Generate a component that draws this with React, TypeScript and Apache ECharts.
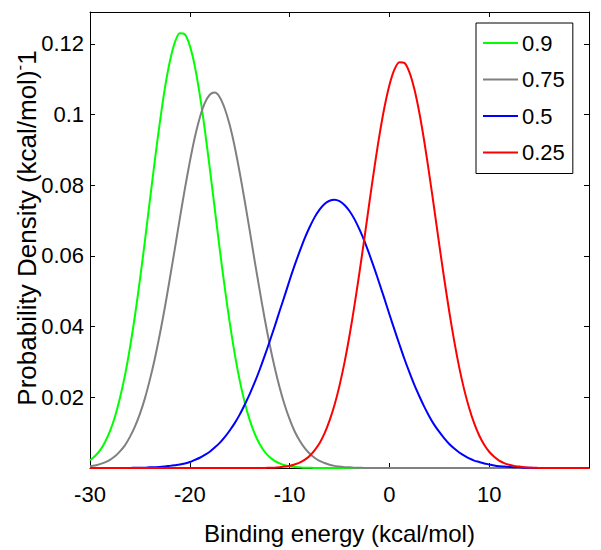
import React, { useEffect, useRef } from "react";
import * as echarts from "echarts";

const xValues = [
  -30, -29.5, -29, -28.5, -28, -27.5, -27, -26.5, -26, -25.5,
  -25, -24.5, -24, -23.5, -23, -22.5, -22, -21.5, -21, -20.5,
  -20, -19.5, -19, -18.5, -18, -17.5, -17, -16.5, -16, -15.5,
  -15, -14.5, -14, -13.5, -13, -12.5, -12, -11.5, -11, -10.5,
  -10, -9.5, -9, -8.5, -8, -7.5, -7, -6.5, -6, -5.5,
  -5, -4.5, -4, -3.5, -3, -2.5, -2, -1.5, -1, -0.5,
  0, 0.5, 1, 1.5, 2, 2.5, 3, 3.5, 4, 4.5,
  5, 5.5, 6, 6.5, 7, 7.5, 8, 8.5, 9, 9.5,
  10, 10.5, 11, 11.5, 12, 12.5, 13, 13.5, 14, 14.5,
  15, 15.5, 16, 16.5, 17, 17.5, 18, 18.5, 19, 19.5,
  20,
];

const seriesNames = ["0.9", "0.75", "0.5", "0.25"];
const seriesColors = ["#00ff00", "#808080", "#0000ff", "#ff0000"];

const density09 = [
  0.0022, 0.0034, 0.005, 0.0073, 0.0104, 0.0145, 0.0198, 0.0262, 0.034, 0.043,
  0.0532, 0.0642, 0.0757, 0.0871, 0.0978, 0.1074, 0.115, 0.1204, 0.123, 0.1227,
  0.1195, 0.1137, 0.1056, 0.0958, 0.0848, 0.0734, 0.0619, 0.0511, 0.0411, 0.0323,
  0.0248, 0.0186, 0.0136, 0.0097, 0.0068, 0.0046, 0.0031, 0.002, 0.0013, 0.0008,
  0.0005, 0.0003, 0.0002, 0.0001, 0.0001, 0, 0, 0, 0, 0,
  0, 0, 0, 0, 0, 0, 0, 0, 0, 0,
  0, 0, 0, 0, 0, 0, 0, 0, 0, 0,
  0, 0, 0, 0, 0, 0, 0, 0, 0, 0,
  0, 0, 0, 0, 0, 0, 0, 0, 0, 0,
  0, 0, 0, 0, 0, 0, 0, 0, 0, 0,
  0,
];
const density075 = [
  0.0005, 0.0007, 0.0011, 0.0016, 0.0023, 0.0033, 0.0047, 0.0064, 0.0088, 0.0117,
  0.0153, 0.0197, 0.025, 0.031, 0.0379, 0.0454, 0.0536, 0.062, 0.0706, 0.0789,
  0.0866, 0.0935, 0.0991, 0.1032, 0.1056, 0.1062, 0.1049, 0.1017, 0.097, 0.0909,
  0.0836, 0.0756, 0.0672, 0.0586, 0.0503, 0.0423, 0.035, 0.0285, 0.0228, 0.0179,
  0.0138, 0.0104, 0.0078, 0.0057, 0.0041, 0.0029, 0.002, 0.0014, 0.0009, 0.0006,
  0.0004, 0.0002, 0.0002, 0.0001, 0.0001, 0, 0, 0, 0, 0,
  0, 0, 0, 0, 0, 0, 0, 0, 0, 0,
  0, 0, 0, 0, 0, 0, 0, 0, 0, 0,
  0, 0, 0, 0, 0, 0, 0, 0, 0, 0,
  0, 0, 0, 0, 0, 0, 0, 0, 0, 0,
  0,
];
const density05 = [
  0, 0, 0, 0, 0, 0, 0, 0, 0, 0.0001,
  0.0001, 0.0001, 0.0002, 0.0002, 0.0003, 0.0004, 0.0006, 0.0008, 0.001, 0.0013,
  0.0017, 0.0023, 0.0029, 0.0037, 0.0046, 0.0058, 0.0071, 0.0087, 0.0106, 0.0127,
  0.0151, 0.0179, 0.0209, 0.0242, 0.0278, 0.0317, 0.0358, 0.04, 0.0444, 0.0487,
  0.0531, 0.0573, 0.0612, 0.0649, 0.0681, 0.0709, 0.0731, 0.0747, 0.0756, 0.0759,
  0.0755, 0.0744, 0.0727, 0.0704, 0.0675, 0.0642, 0.0604, 0.0564, 0.0522, 0.0479,
  0.0435, 0.0392, 0.035, 0.0309, 0.0271, 0.0235, 0.0203, 0.0173, 0.0146, 0.0122,
  0.0102, 0.0084, 0.0068, 0.0055, 0.0044, 0.0035, 0.0027, 0.0021, 0.0017, 0.0013,
  0.001, 0.0007, 0.0005, 0.0004, 0.0003, 0.0002, 0.0002, 0.0001, 0.0001, 0,
  0, 0, 0, 0, 0, 0, 0, 0, 0, 0,
  0,
];
const density025 = [
  0, 0, 0, 0, 0, 0, 0, 0, 0, 0,
  0, 0, 0, 0, 0, 0, 0, 0, 0, 0,
  0, 0, 0, 0, 0, 0, 0, 0, 0, 0,
  0, 0, 0, 0, 0, 0, 0.0001, 0.0001, 0.0002, 0.0004,
  0.0006, 0.001, 0.0015, 0.0023, 0.0034, 0.005, 0.007, 0.0098, 0.0134, 0.0178,
  0.0233, 0.0298, 0.0374, 0.046, 0.0553, 0.0651, 0.0752, 0.085, 0.0941, 0.102,
  0.1083, 0.1127, 0.1148, 0.1146, 0.112, 0.1072, 0.1005, 0.0923, 0.083, 0.0732,
  0.0631, 0.0534, 0.0442, 0.0358, 0.0284, 0.0221, 0.0169, 0.0126, 0.0092, 0.0066,
  0.0046, 0.0032, 0.0021, 0.0014, 0.0009, 0.0006, 0.0004, 0.0002, 0.0001, 0.0001,
  0, 0, 0, 0, 0, 0, 0, 0, 0, 0,
  0,
];

const allDensities = [density09, density075, density05, density025];

const xTickLabels = ["-30", "-20", "-10", "0", "10"];
const yTickLabels = ["0.02", "0.04", "0.06", "0.08", "0.1", "0.12"];

const FONT = "'Liberation Sans', Arial, Helvetica, sans-serif";

export default function App() {
  const ref = useRef<HTMLDivElement>(null);

  useEffect(() => {
    if (!ref.current) return;
    const chart = echarts.init(ref.current, undefined, { renderer: "svg" });

    const fmtX = (v: number) => {
      const s = String(Math.round(v));
      return xTickLabels.includes(s) ? s : "";
    };
    const fmtY = (v: number) => {
      const s = String(Number(v.toFixed(3)));
      return yTickLabels.includes(s) ? s : "";
    };

    const axisLine = { show: true, onZero: false, lineStyle: { color: "#000", width: 1 } };
    const axisTick = { show: true, inside: true, length: 5, lineStyle: { color: "#000", width: 1 } };

    chart.setOption({
      animation: false,
      backgroundColor: "#fff",
      grid: { left: 90, right: 12, top: 12, bottom: 74, containLabel: false },
      legend: {
        orient: "vertical",
        left: 476,
        top: 23,
        width: 96,
        padding: [9, 8, 10, 7],
        itemGap: 14.5,
        itemWidth: 35,
        itemHeight: 2,
        icon: "rect",
        borderColor: "#000",
        borderWidth: 1,
        backgroundColor: "#fff",
        textStyle: { fontFamily: FONT, fontSize: 22, color: "#000", lineHeight: 22, padding: [0, 0, 0, -1] },
        data: seriesNames,
      },
      graphic: [
        {
          type: "text",
          x: 27,
          y: 228,
          rotation: Math.PI / 2,
          style: {
            text: "{n|Probability Density (kcal/mol)}{s|-}{n|1}",
            align: "center",
            verticalAlign: "middle",
            fill: "#000",
            font: `26px ${FONT}`,
            rich: {
              n: { fontFamily: FONT, fontSize: 26, fill: "#000", color: "#000" },
              s: { fontFamily: FONT, fontSize: 17, fill: "#000", color: "#000", padding: [0, 0, 15, 0] },
            },
          },
        },
      ],
      xAxis: [
        {
          type: "value",
          position: "bottom",
          min: -30,
          max: 20,
          interval: 10,
          axisLine,
          axisTick,
          splitLine: { show: false },
          axisLabel: { fontFamily: FONT, fontSize: 22, color: "#000", margin: 15, formatter: fmtX },
          name: "Binding energy (kcal/mol)",
          nameLocation: "middle",
          nameGap: 53,
          nameTextStyle: { fontFamily: FONT, fontSize: 24, color: "#000" },
        },
        {
          type: "value",
          position: "top",
          min: -30,
          max: 20,
          interval: 10,
          axisLine,
          axisTick,
          splitLine: { show: false },
          axisLabel: { show: false },
        },
      ],
      yAxis: [
        {
          type: "value",
          position: "left",
          min: 0,
          max: 0.129,
          interval: 0.02,
          axisLine,
          axisTick,
          splitLine: { show: false },
          axisLabel: { fontFamily: FONT, fontSize: 22, color: "#000", margin: 6, formatter: fmtY },
        },
        {
          type: "value",
          position: "right",
          min: 0,
          max: 0.129,
          interval: 0.02,
          axisLine,
          axisTick,
          splitLine: { show: false },
          axisLabel: { show: false },
        },
      ],
      series: seriesNames.map((name, k) => ({
        name,
        type: "line",
        xAxisIndex: 0,
        yAxisIndex: 0,
        data: xValues.map((x, i) => [x, allDensities[k][i]]),
        smooth: 0.3,
        symbol: "none",
        showSymbol: false,
        clip: true,
        color: seriesColors[k],
        lineStyle: { color: seriesColors[k], width: 2, join: "round" },
      })),
    });

    return () => chart.dispose();
  }, []);

  return <div ref={ref} style={{ width: 601, height: 550, position: "absolute", left: 0, top: 0 }} />;
}
